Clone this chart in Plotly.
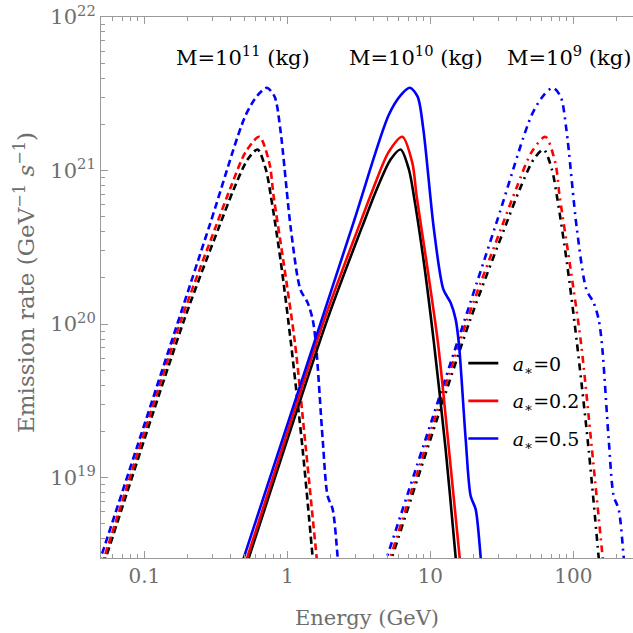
import math
import plotly.graph_objects as go

# ---------------- data ----------------
# Emission rate (GeV^-1 s^-1) sampled along each spectrum
rate_a0 = [2.0e18, 3.03e18, 1.074e20, 4.345e20, 7.53e20, 1.180e21, 1.371e21,
           1.016e21, 6.81e20, 2.51e20, 7.57e19, 1.528e19, 3.03e18, 2.24e18]
rate_a02 = [2.0e18, 3.03e18, 1.074e20, 4.345e20, 7.76e20, 1.318e21, 1.660e21,
            1.122e21, 6.81e20, 2.51e20, 7.57e19, 1.528e19, 3.03e18, 2.24e18]
rate_a05 = [2.0e18, 3.03e18, 4.345e20, 2.29e21, 3.09e21, 3.46e21, 3.03e21,
            1.854e21, 4.14e20, 1.683e20, 1.377e20, 1.074e20, 7.38e19, 1.778e19,
            7.59e18, 6.22e18, 3.03e18, 2.24e18]

# Energies (GeV) for M = 1e11 kg
energy_m11_a0 = [0.0465, 0.0539, 0.1905, 0.3346, 0.4212, 0.5272, 0.6194,
                 0.7079, 0.7674, 0.9016, 1.059, 1.279, 1.503, 1.549]
energy_m11_a02 = [0.0453, 0.0525, 0.1816, 0.3168, 0.4013, 0.5105, 0.6368,
                  0.7482, 0.8017, 0.9419, 1.130, 1.349, 1.603, 1.660]
energy_m11_a05 = [0.0430, 0.0497, 0.2848, 0.5105, 0.6194, 0.7194, 0.8147,
                  0.8933, 1.059, 1.233, 1.387, 1.503, 1.585, 1.766, 1.914,
                  2.075, 2.249, 2.317]

# Energies (GeV) for M = 1e10 kg
energy_m10_a0 = [0.465, 0.539, 1.905, 3.346, 4.212, 5.272, 6.194,
                 7.079, 7.674, 9.016, 10.59, 12.79, 15.03, 15.49]
energy_m10_a02 = [0.453, 0.525, 1.816, 3.168, 4.013, 5.105, 6.368,
                  7.482, 8.017, 9.419, 11.30, 13.49, 16.03, 16.60]
energy_m10_a05 = [0.430, 0.497, 2.848, 5.105, 6.194, 7.194, 8.147,
                  8.933, 10.59, 12.33, 13.87, 15.03, 15.85, 17.66, 19.14,
                  20.75, 22.49, 23.17]

# Energies (GeV) for M = 1e9 kg
energy_m9_a0 = [4.65, 5.39, 19.05, 33.46, 42.12, 52.72, 61.94,
                70.79, 76.74, 90.16, 105.9, 127.9, 150.3, 154.9]
energy_m9_a02 = [4.53, 5.25, 18.16, 31.68, 40.13, 51.05, 63.68,
                 74.82, 80.17, 94.19, 113.0, 134.9, 160.3, 166.0]
energy_m9_a05 = [4.30, 4.97, 28.48, 51.05, 61.94, 71.94, 81.47,
                 89.33, 105.9, 123.3, 138.7, 150.3, 158.5, 176.6, 191.4,
                 207.5, 224.9, 231.7]

spin_labels = ["\u2002<i>a</i><sub>\u2217</sub>=0", "\u2002<i>a</i><sub>\u2217</sub>=0.2",
               "\u2002<i>a</i><sub>\u2217</sub>=0.5"]
spin_colors = ["#000000", "#ff0000", "#0000ff"]
mass_labels = ["M=10<sup>11</sup> (kg)", "M=10<sup>10</sup> (kg)", "M=10<sup>9</sup> (kg)"]
mass_label_energy = [0.487, 7.9, 93.0]
mass_label_rate = 5.6e21

x_tick_vals = [0.1, 1, 10, 100]
x_tick_text = ["0.1", "1", "10", "100"]
y_tick_vals = [1e19, 1e20, 1e21, 1e22]
y_tick_text = ["10<sup>19</sup>", "10<sup>20</sup>", "10<sup>21</sup>", "10<sup>22</sup>"]

# ---------------- figure ----------------
FONT = "DejaVu Serif"
GREY = "#6e6e6e"
AXIS = "#9a9a9a"

rates = [rate_a0, rate_a02, rate_a05]
energies = {
    "m11": [energy_m11_a0, energy_m11_a02, energy_m11_a05],
    "m10": [energy_m10_a0, energy_m10_a02, energy_m10_a05],
    "m9": [energy_m9_a0, energy_m9_a02, energy_m9_a05],
}
dashes = {"m11": "7px,4px", "m10": "solid", "m9": "7px,5px,2px,5px"}

fig = go.Figure()
for key in ["m11", "m9", "m10"]:
    for i in range(3):
        fig.add_trace(go.Scatter(
            x=energies[key][i], y=rates[i], mode="lines",
            line=dict(color=spin_colors[i], width=2.6, dash=dashes[key],
                      shape="spline", smoothing=0.8),
            name=spin_labels[i], legendgroup=f"g{i}",
            showlegend=(key == "m10"), hoverinfo="skip",
        ))

for lab, xe in zip(mass_labels, mass_label_energy):
    fig.add_annotation(x=math.log10(xe), y=math.log10(mass_label_rate),
                       xref="x", yref="y", text=lab, showarrow=False,
                       font=dict(family=FONT, size=21, color="black"))

fig.add_annotation(x=0.5, y=-0.136, xref="paper", yref="paper",
                   text="Energy (GeV)", showarrow=False,
                   font=dict(family=FONT, size=21, color=GREY))
fig.add_annotation(x=-0.175, y=0.51, xref="paper", yref="paper", textangle=-90,
                   text="Emission rate (GeV<sup>\u22121</sup> <i>s</i><sup>\u22121</sup>)",
                   showarrow=False, font=dict(family=FONT, size=23, color=GREY))

minor_x = [m * 10.0 ** e for e in range(-2, 3) for m in range(2, 10)]
minor_y = [m * 10.0 ** e for e in range(18, 22) for m in range(2, 10)]

fig.update_xaxes(type="log", range=[-1.303, 2.417], tickmode="array",
                 tickvals=x_tick_vals, ticktext=x_tick_text,
                 ticks="inside", ticklen=7, tickwidth=1, tickcolor=AXIS,
                 showline=True, linecolor=AXIS, linewidth=1, mirror="allticks",
                 showgrid=False, zeroline=False,
                 tickfont=dict(family=FONT, size=20, color=GREY),
                 minor=dict(tickmode="array", tickvals=minor_x, ticks="inside",
                            ticklen=4, tickcolor=AXIS, showgrid=False))
fig.update_yaxes(type="log", range=[18.477, 22.0], tickmode="array",
                 tickvals=y_tick_vals, ticktext=y_tick_text,
                 ticks="inside", ticklen=7, tickwidth=1, tickcolor=AXIS,
                 showline=True, linecolor=AXIS, linewidth=1, mirror=False,
                 showgrid=False, zeroline=False,
                 tickfont=dict(family=FONT, size=21, color=GREY),
                 minor=dict(tickmode="array", tickvals=minor_y, ticks="inside",
                            ticklen=4, tickcolor=AXIS, showgrid=False))

fig.update_layout(
    width=633, height=633,
    margin=dict(l=101, r=0, t=17, b=75),
    plot_bgcolor="white", paper_bgcolor="white",
    showlegend=True,
    legend=dict(x=0.681, y=0.395, xanchor="left", yanchor="top",
                font=dict(family=FONT, size=19, color="black"),
                bgcolor="rgba(0,0,0,0)", borderwidth=0,
                tracegroupgap=10, itemwidth=30),
)

fig.write_html("out.html")
